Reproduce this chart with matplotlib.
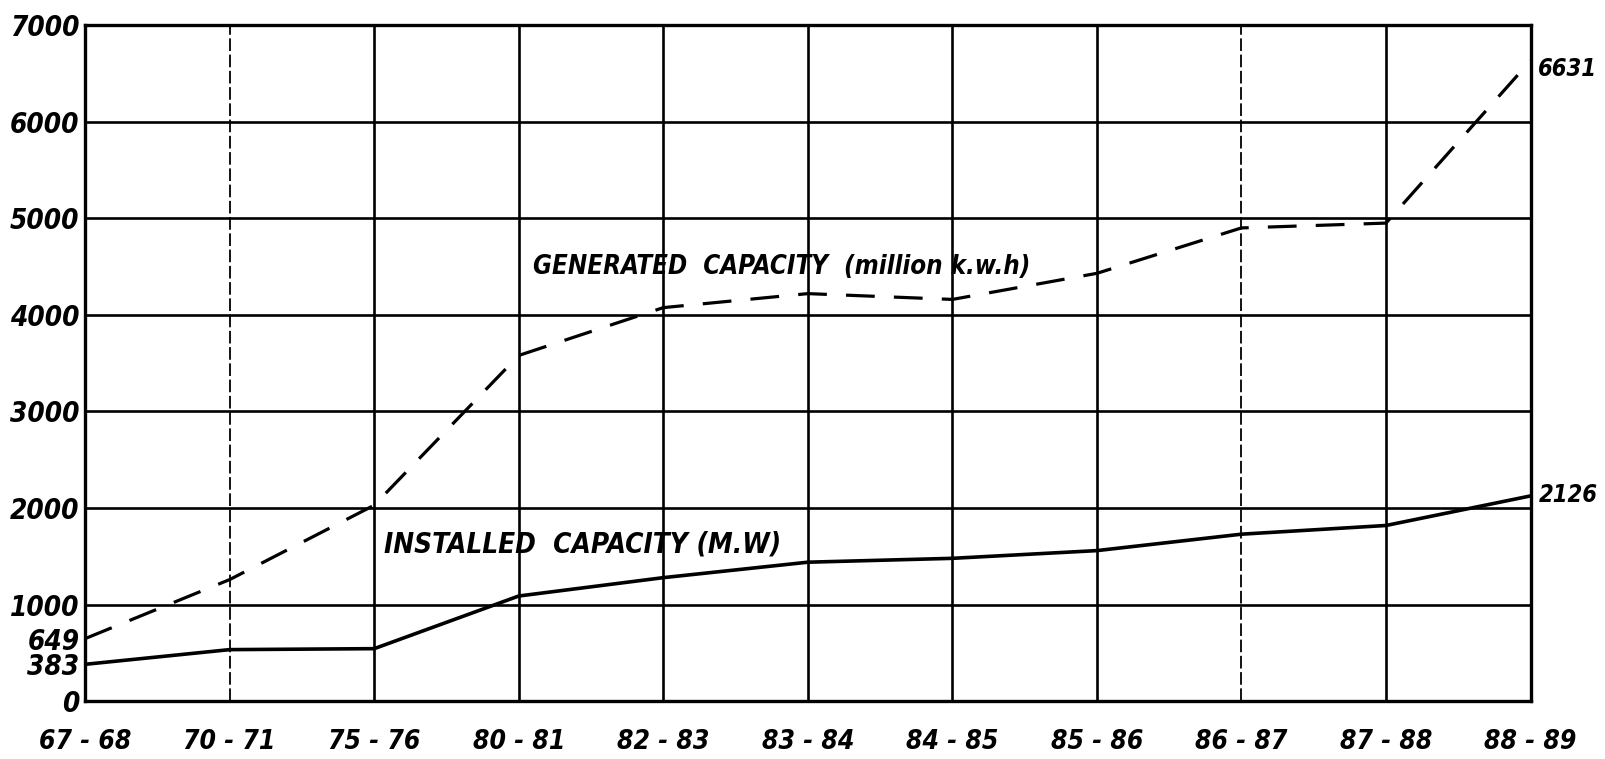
import matplotlib
matplotlib.use("Agg")
import matplotlib.pyplot as plt

# years and values
anni = ["67-68", "70-71", "75-76", "80-81", "82-83", "83-84",
        "84-85", "85-86", "86-87", "87-88", "88-89"]
generata = [649, 1260, 2030, 3580, 4075, 4220, 4160, 4430, 4900, 4950, 6631]
installata = [383, 535, 545, 1090, 1280, 1440, 1480, 1560, 1730, 1820, 2126]
y_ticks = [0, 383, 649, 1000, 2000, 3000, 4000, 5000, 6000, 7000]

font = dict(family=["DejaVu Sans"], style="italic", weight="bold", stretch="condensed")

fig = plt.figure(figsize=(16.06, 7.59), dpi=100)
ax = fig.add_axes([0.053, 0.076, 0.9, 0.891])
x = list(range(len(anni)))

# griglia disegnata a mano
for yv in range(1000, 7000, 1000):
    ax.axhline(yv, color="black", lw=1.9, zorder=1)
for i in x[1:-1]:
    if anni[i] in ("70-71", "86-87"):
        ax.axvline(i, color="black", lw=1.3, ls=(0, (7, 2)), zorder=1)
    else:
        ax.axvline(i, color="black", lw=1.9, zorder=1)

ax.plot(x, installata, color="black", lw=2.6, zorder=3)
ax.plot(x, generata, color="black", lw=2.3, dashes=(9, 6), zorder=3)

ax.set_xlim(0, len(anni) - 1)
ax.set_ylim(0, 7000)
ax.set_xticks(x)
ax.set_xticklabels([a.replace("-", " - ") for a in anni], fontsize=19, **font)
ax.set_yticks(y_ticks)
ax.set_yticklabels([str(v) for v in y_ticks], fontsize=20, **font)
ax.tick_params(axis="both", length=0)
ax.tick_params(axis="x", pad=20)
ax.tick_params(axis="y", pad=4)
for s in ax.spines.values():
    s.set_linewidth(2.4)

ax.text(3.1, 4500, "GENERATED  CAPACITY  (million k.w.h)", fontsize=18.5, va="center", **font)
ax.text(2.07, 1625, "INSTALLED  CAPACITY (M.W)", fontsize=20, va="center", **font)
ax.annotate(str(generata[-1]), (x[-1], generata[-1]), xytext=(5, -6), textcoords="offset points",
            fontsize=17, va="center", annotation_clip=False, **font)
ax.annotate(str(installata[-1]), (x[-1], installata[-1]), xytext=(6, 1), textcoords="offset points",
            fontsize=17, va="center", annotation_clip=False, **font)

fig.savefig("out.png", dpi=100)
